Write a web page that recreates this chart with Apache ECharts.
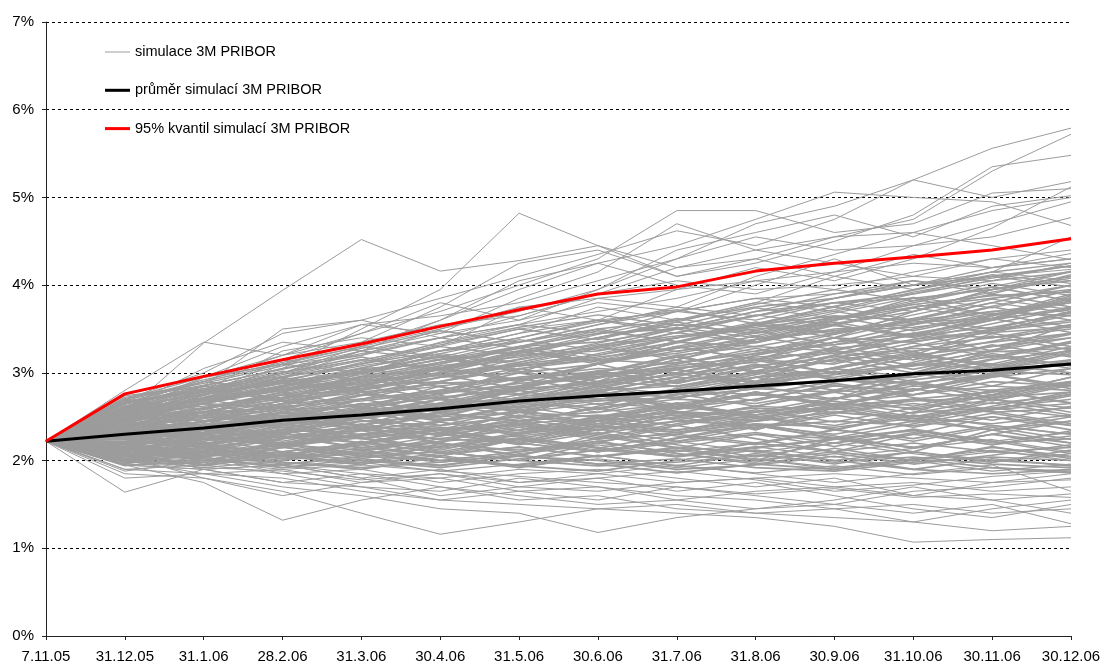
<!DOCTYPE html>
<html>
<head>
<meta charset="utf-8">
<script src="https://cdn.jsdelivr.net/npm/echarts@6/dist/echarts.min.js"></script>
<style>
  html, body { margin: 0; padding: 0; background: #fff; }
  #chart { width: 1105px; height: 666px; }
</style>
</head>
<body>
<div id="chart"></div>
<script>
// Dates of the simulation horizon (x axis)
const categories = ['7.11.05', '31.12.05', '31.1.06', '28.2.06', '31.3.06', '30.4.06', '31.5.06',
  '30.6.06', '31.7.06', '31.8.06', '30.9.06', '31.10.06', '30.11.06', '30.12.06'];

// Y axis tick values (%)
const yTicks = [0, 1, 2, 3, 4, 5, 6, 7];

// Average of the simulated 3M PRIBOR paths (%)
const meanPath = [2.22, 2.30, 2.37, 2.46, 2.52, 2.59, 2.68, 2.74, 2.79, 2.85, 2.91, 2.99, 3.03, 3.10];

// 95% quantile of the simulated paths (%)
const quantile95 = [2.22, 2.76, 2.96, 3.15, 3.33, 3.53, 3.72, 3.90, 3.98, 4.16, 4.25, 4.32, 4.40, 4.53];

// Simulated paths ending high (%)
const upperPaths = [
  [2.22, 2.55, 3.34, 3.94, 4.52, 4.16, 4.28, 4.45, 4.10, 4.30, 4.55, 4.60, 4.85, 5.00],
  [2.22, 2.50, 2.80, 3.05, 3.50, 3.95, 4.82, 4.45, 4.20, 4.40, 4.55, 4.75, 5.30, 5.72],
  [2.22, 2.60, 2.90, 3.20, 3.45, 3.70, 4.00, 4.30, 4.85, 4.85, 4.60, 4.70, 5.05, 5.10],
  [2.22, 2.55, 2.75, 3.00, 3.30, 3.60, 3.95, 4.25, 4.45, 4.75, 5.06, 5.00, 4.95, 4.68],
  [2.22, 2.70, 3.00, 3.45, 3.60, 3.85, 4.10, 4.35, 4.62, 4.45, 4.75, 5.20, 5.00, 5.18],
  [2.22, 2.50, 2.95, 3.30, 3.55, 3.65, 3.80, 4.05, 4.30, 4.70, 4.90, 5.20, 5.56, 5.79],
  [2.22, 2.45, 2.70, 3.10, 3.35, 3.75, 4.25, 4.40, 4.10, 4.25, 4.50, 4.80, 5.35, 5.48],
  [2.22, 2.65, 2.90, 3.10, 3.20, 3.50, 3.70, 3.95, 4.30, 4.55, 4.40, 4.45, 4.70, 4.95],
  [2.22, 2.40, 2.75, 2.95, 3.25, 3.45, 3.85, 4.15, 4.70, 4.40, 4.25, 4.10, 4.30, 4.40],
  [2.22, 2.60, 3.05, 3.35, 3.25, 3.60, 4.05, 4.25, 4.00, 3.90, 4.15, 4.45, 4.55, 4.77],
  [2.22, 2.55, 2.85, 3.50, 3.60, 3.40, 3.65, 3.90, 4.20, 4.30, 4.10, 4.35, 4.20, 4.36],
  [2.22, 2.75, 2.95, 3.15, 3.45, 3.80, 3.60, 3.95, 4.40, 4.60, 4.80, 4.55, 4.90, 5.02],
  [2.22, 2.35, 2.65, 2.90, 3.10, 3.35, 3.55, 3.85, 3.75, 4.10, 4.35, 4.60, 4.45, 4.29],
  [2.22, 2.50, 2.80, 3.25, 3.40, 3.30, 3.75, 3.60, 3.95, 4.20, 4.05, 4.30, 4.65, 5.12],
  [2.22, 2.80, 3.35, 3.20, 3.55, 3.45, 3.60, 3.80, 3.70, 4.00, 4.30, 4.00, 4.15, 4.55],
  [2.22, 2.70, 2.90, 3.10, 3.30, 3.50, 3.75, 3.85, 3.95, 4.05, 4.15, 4.25, 4.20, 4.30],
  [2.22, 2.60, 2.95, 3.20, 3.35, 3.55, 3.65, 3.90, 4.05, 3.95, 4.00, 4.10, 4.05, 4.25],
  [2.22, 2.50, 2.85, 3.05, 3.25, 3.40, 3.55, 3.70, 3.85, 4.05, 3.95, 4.15, 4.30, 4.20],
  [2.22, 2.65, 2.80, 3.00, 3.15, 3.30, 3.50, 3.60, 3.70, 3.85, 3.90, 4.00, 4.15, 4.05],
  [2.22, 2.55, 2.75, 3.15, 3.00, 3.25, 3.45, 3.75, 3.60, 3.80, 4.10, 3.95, 4.10, 4.18]
];

// Simulated paths in the central band (%)
const corePaths = [
  [2.22, 2.30, 2.40, 2.50, 2.55, 2.65, 2.70, 2.80, 2.85, 2.95, 3.00, 3.10, 3.05, 3.15],
  [2.22, 2.15, 2.20, 2.30, 2.25, 2.35, 2.40, 2.30, 2.45, 2.50, 2.40, 2.55, 2.60, 2.50],
  [2.22, 2.45, 2.60, 2.70, 2.85, 2.90, 3.05, 3.15, 3.10, 3.25, 3.40, 3.35, 3.50, 3.60],
  [2.22, 2.05, 2.10, 2.00, 2.15, 2.20, 2.10, 2.25, 2.30, 2.20, 2.35, 2.25, 2.40, 2.30],
  [2.22, 2.35, 2.30, 2.45, 2.60, 2.50, 2.70, 2.85, 2.75, 2.90, 3.05, 3.20, 3.10, 3.30],
  [2.22, 2.55, 2.75, 2.90, 3.00, 3.15, 3.25, 3.40, 3.55, 3.45, 3.60, 3.75, 3.85, 3.95],
  [2.22, 2.20, 2.35, 2.25, 2.40, 2.55, 2.45, 2.60, 2.70, 2.65, 2.80, 2.75, 2.90, 2.85],
  [2.22, 2.10, 2.00, 2.15, 2.05, 2.10, 2.25, 2.15, 2.05, 2.20, 2.10, 2.00, 2.15, 2.05],
  [2.22, 2.40, 2.50, 2.65, 2.70, 2.80, 2.95, 3.00, 3.20, 3.30, 3.25, 3.45, 3.60, 3.75],
  [2.22, 2.28, 2.45, 2.40, 2.50, 2.65, 2.60, 2.75, 2.90, 3.00, 2.95, 3.10, 3.25, 3.20],
  [2.22, 2.60, 2.70, 2.85, 3.05, 3.10, 3.30, 3.35, 3.50, 3.65, 3.80, 3.90, 4.05, 4.15],
  [2.22, 2.00, 2.05, 2.10, 2.20, 2.15, 2.30, 2.40, 2.35, 2.45, 2.55, 2.50, 2.60, 2.70],
  [2.22, 2.32, 2.25, 2.35, 2.30, 2.40, 2.50, 2.45, 2.55, 2.50, 2.60, 2.70, 2.65, 2.75],
  [2.22, 2.50, 2.55, 2.75, 2.80, 2.95, 3.00, 3.10, 3.25, 3.35, 3.50, 3.55, 3.70, 3.80],
  [2.22, 2.12, 2.25, 2.20, 2.30, 2.25, 2.35, 2.50, 2.40, 2.55, 2.65, 2.60, 2.75, 2.95],
  [2.22, 2.38, 2.55, 2.60, 2.75, 2.70, 2.85, 2.95, 3.05, 3.15, 3.10, 3.30, 3.40, 3.50],
  [2.22, 1.98, 2.00, 1.95, 2.05, 2.00, 1.95, 2.05, 2.15, 2.10, 2.00, 2.10, 2.00, 1.95],
  [2.22, 2.25, 2.30, 2.45, 2.40, 2.55, 2.65, 2.60, 2.75, 2.85, 2.90, 3.00, 2.95, 3.05],
  [2.22, 2.45, 2.65, 2.80, 2.95, 3.05, 3.15, 3.30, 3.40, 3.55, 3.65, 3.60, 3.80, 4.00],
  [2.22, 2.18, 2.10, 2.25, 2.35, 2.30, 2.20, 2.35, 2.45, 2.40, 2.30, 2.45, 2.35, 2.45],
  [2.22, 2.33, 2.40, 2.55, 2.50, 2.60, 2.75, 2.70, 2.80, 2.95, 3.05, 2.95, 3.15, 3.25],
  [2.22, 2.65, 2.80, 2.95, 3.10, 3.25, 3.35, 3.50, 3.60, 3.75, 3.85, 4.00, 4.10, 4.22],
  [2.22, 2.08, 2.15, 2.05, 2.10, 2.25, 2.20, 2.10, 2.20, 2.30, 2.25, 2.35, 2.20, 2.25],
  [2.22, 2.42, 2.35, 2.50, 2.65, 2.60, 2.80, 2.90, 2.85, 3.00, 3.15, 3.25, 3.35, 3.45],
  [2.22, 2.27, 2.35, 2.30, 2.45, 2.50, 2.55, 2.65, 2.60, 2.70, 2.85, 2.80, 3.00, 3.10],
  [2.22, 2.52, 2.65, 2.60, 2.75, 2.85, 2.95, 3.05, 3.00, 3.20, 3.35, 3.45, 3.40, 3.55],
  [2.22, 2.15, 2.05, 2.10, 2.00, 1.95, 2.05, 2.00, 1.90, 1.95, 2.05, 1.90, 1.85, 1.90],
  [2.22, 2.36, 2.50, 2.45, 2.55, 2.70, 2.65, 2.80, 2.95, 2.90, 3.05, 3.20, 3.30, 3.40],
  [2.22, 2.20, 2.25, 2.35, 2.45, 2.40, 2.50, 2.55, 2.65, 2.75, 2.70, 2.85, 2.80, 2.90],
  [2.22, 2.58, 2.70, 2.80, 2.90, 3.00, 3.10, 3.20, 3.35, 3.30, 3.45, 3.60, 3.70, 3.65],
  [2.22, 2.02, 1.95, 2.05, 1.98, 2.08, 2.15, 2.05, 2.12, 2.00, 2.10, 2.20, 2.10, 2.15],
  [2.22, 2.30, 2.45, 2.55, 2.70, 2.80, 2.75, 2.90, 3.05, 3.15, 3.25, 3.15, 3.30, 3.45],
  [2.22, 2.48, 2.60, 2.75, 2.90, 3.00, 3.20, 3.25, 3.40, 3.50, 3.55, 3.70, 3.95, 4.10],
  [2.22, 2.12, 2.18, 2.28, 2.20, 2.32, 2.42, 2.35, 2.50, 2.60, 2.55, 2.65, 2.55, 2.60],
  [2.22, 2.40, 2.35, 2.45, 2.55, 2.65, 2.60, 2.70, 2.80, 2.75, 2.90, 2.95, 3.10, 3.00],
  [2.22, 2.25, 2.15, 2.25, 2.35, 2.45, 2.55, 2.50, 2.60, 2.55, 2.65, 2.75, 2.85, 2.80],
  [2.22, 2.62, 2.75, 2.90, 3.00, 3.15, 3.30, 3.45, 3.50, 3.70, 3.80, 3.85, 3.95, 4.05],
  [2.22, 1.95, 1.98, 2.08, 2.00, 1.92, 2.02, 2.12, 2.05, 2.15, 2.25, 2.15, 2.30, 2.20],
  [2.22, 2.34, 2.42, 2.38, 2.48, 2.58, 2.72, 2.68, 2.78, 2.88, 2.98, 3.08, 3.18, 3.35],
  [2.22, 2.44, 2.56, 2.68, 2.78, 2.88, 2.92, 3.02, 3.12, 3.22, 3.32, 3.42, 3.52, 3.68],
  [2.22, 2.16, 2.26, 2.18, 2.28, 2.38, 2.32, 2.42, 2.52, 2.45, 2.55, 2.48, 2.58, 2.65],
  [2.22, 2.06, 2.12, 2.02, 2.08, 2.18, 2.12, 2.22, 2.32, 2.38, 2.45, 2.40, 2.50, 2.40],
  [2.22, 2.54, 2.62, 2.72, 2.88, 2.98, 3.08, 3.18, 3.28, 3.38, 3.48, 3.58, 3.62, 3.88],
  [2.22, 2.26, 2.32, 2.42, 2.52, 2.62, 2.58, 2.68, 2.72, 2.82, 2.92, 2.88, 2.98, 3.12],
  [2.22, 2.38, 2.48, 2.58, 2.62, 2.72, 2.82, 2.88, 2.98, 3.08, 3.18, 3.28, 3.24, 3.28],
  [2.22, 2.09, 2.02, 1.98, 1.92, 1.98, 2.06, 1.96, 2.02, 1.92, 1.88, 1.98, 2.04, 2.00],
  [2.22, 2.22, 2.28, 2.32, 2.38, 2.35, 2.45, 2.52, 2.48, 2.62, 2.58, 2.68, 2.72, 2.78],
  [2.22, 2.68, 2.78, 2.88, 2.82, 2.95, 3.08, 3.15, 3.22, 3.38, 3.48, 3.52, 3.62, 3.72],
  [2.22, 2.31, 2.38, 2.52, 2.48, 2.58, 2.68, 2.78, 2.72, 2.82, 2.78, 2.92, 3.02, 2.98],
  [2.22, 2.14, 2.08, 2.18, 2.12, 2.22, 2.28, 2.38, 2.32, 2.42, 2.38, 2.48, 2.42, 2.52],
  [2.22, 2.47, 2.52, 2.62, 2.68, 2.78, 2.85, 2.98, 3.08, 3.18, 3.22, 3.38, 3.48, 3.58],
  [2.22, 2.19, 2.24, 2.30, 2.26, 2.36, 2.42, 2.48, 2.56, 2.52, 2.62, 2.70, 2.78, 2.88],
  [2.22, 2.04, 2.08, 1.96, 2.04, 2.10, 2.00, 1.94, 1.98, 2.06, 1.98, 2.04, 1.96, 1.92],
  [2.22, 2.36, 2.44, 2.54, 2.64, 2.76, 2.88, 2.96, 3.06, 3.12, 3.28, 3.36, 3.46, 3.52],
  [2.22, 2.58, 2.68, 2.82, 2.92, 3.08, 3.18, 3.32, 3.42, 3.52, 3.62, 3.78, 3.88, 3.92]
];

// More zig-zagging simulated paths in the central band (%)
const corePaths2 = [
  [2.22, 2.45, 2.30, 2.55, 2.40, 2.65, 2.50, 2.80, 2.60, 2.85, 2.70, 3.00, 2.85, 3.05],
  [2.22, 2.10, 2.30, 2.15, 2.40, 2.20, 2.45, 2.30, 2.55, 2.35, 2.60, 2.45, 2.70, 2.55],
  [2.22, 2.55, 2.40, 2.70, 2.95, 2.75, 3.05, 2.90, 3.20, 3.00, 3.30, 3.15, 3.45, 3.30],
  [2.22, 2.30, 2.55, 2.35, 2.60, 2.85, 2.65, 2.95, 3.15, 2.90, 3.20, 3.45, 3.25, 3.55],
  [2.22, 2.00, 2.20, 2.05, 1.95, 2.20, 2.05, 2.30, 2.15, 2.00, 2.25, 2.10, 2.35, 2.20],
  [2.22, 2.40, 2.60, 2.45, 2.70, 2.55, 2.85, 3.10, 2.90, 3.20, 3.40, 3.20, 3.50, 3.70],
  [2.22, 2.15, 2.35, 2.55, 2.40, 2.30, 2.55, 2.75, 2.55, 2.45, 2.70, 2.90, 2.70, 2.60],
  [2.22, 2.65, 2.85, 2.70, 3.00, 3.20, 3.00, 3.30, 3.50, 3.35, 3.60, 3.85, 3.65, 3.90],
  [2.22, 2.25, 2.10, 2.30, 2.50, 2.35, 2.20, 2.45, 2.65, 2.50, 2.35, 2.55, 2.80, 2.65],
  [2.22, 2.50, 2.70, 2.95, 2.80, 3.05, 3.25, 3.10, 3.35, 3.55, 3.40, 3.70, 3.90, 3.75],
  [2.22, 2.05, 1.95, 2.15, 2.30, 2.10, 2.00, 2.20, 2.40, 2.25, 2.10, 2.30, 2.50, 2.35],
  [2.22, 2.35, 2.55, 2.75, 2.60, 2.80, 3.00, 2.85, 2.70, 2.95, 3.15, 3.00, 3.25, 3.40],
  [2.22, 2.20, 2.40, 2.30, 2.50, 2.70, 2.55, 2.75, 2.60, 2.85, 3.05, 2.90, 2.75, 2.95],
  [2.22, 2.60, 2.45, 2.65, 2.85, 3.05, 2.90, 3.10, 3.30, 3.15, 3.35, 3.55, 3.75, 3.60],
  [2.22, 2.12, 2.25, 2.10, 2.20, 2.35, 2.20, 2.10, 2.25, 2.40, 2.25, 2.15, 2.30, 2.45],
  [2.22, 2.42, 2.28, 2.48, 2.65, 2.50, 2.70, 2.55, 2.75, 2.95, 2.80, 3.00, 3.20, 3.05],
  [2.22, 2.30, 2.45, 2.65, 2.85, 2.70, 2.90, 3.10, 3.30, 3.15, 3.40, 3.60, 3.45, 3.70],
  [2.22, 1.98, 2.12, 2.28, 2.15, 2.05, 2.25, 2.40, 2.28, 2.18, 2.35, 2.52, 2.40, 2.30],
  [2.22, 2.48, 2.65, 2.50, 2.70, 2.90, 3.10, 2.95, 3.15, 3.35, 3.55, 3.40, 3.60, 3.85],
  [2.22, 2.18, 2.32, 2.48, 2.35, 2.55, 2.42, 2.62, 2.82, 2.68, 2.88, 2.75, 2.95, 3.15],
  [2.22, 2.38, 2.22, 2.40, 2.58, 2.45, 2.62, 2.48, 2.65, 2.52, 2.70, 2.88, 2.72, 2.90],
  [2.22, 2.56, 2.72, 2.90, 2.75, 2.95, 3.12, 3.30, 3.15, 3.38, 3.58, 3.42, 3.65, 3.82],
  [2.22, 2.08, 2.22, 2.38, 2.25, 2.12, 2.30, 2.45, 2.32, 2.48, 2.62, 2.48, 2.35, 2.50],
  [2.22, 2.28, 2.18, 2.36, 2.52, 2.70, 2.55, 2.40, 2.58, 2.76, 2.62, 2.80, 2.98, 2.85],
  [2.22, 2.52, 2.38, 2.58, 2.78, 2.62, 2.82, 3.02, 2.88, 3.08, 2.92, 3.12, 3.32, 3.18],
  [2.22, 2.14, 2.00, 2.16, 2.30, 2.44, 2.28, 2.14, 2.30, 2.46, 2.60, 2.44, 2.62, 2.78],
  [2.22, 2.34, 2.52, 2.40, 2.58, 2.76, 2.94, 2.78, 2.96, 3.14, 3.00, 3.18, 3.02, 3.22],
  [2.22, 2.62, 2.80, 3.00, 3.18, 3.02, 3.22, 3.40, 3.58, 3.42, 3.62, 3.80, 3.98, 3.82],
  [2.22, 2.02, 2.16, 2.02, 2.18, 2.32, 2.18, 2.32, 2.18, 2.04, 2.20, 2.36, 2.22, 2.08],
  [2.22, 2.44, 2.60, 2.78, 2.62, 2.46, 2.64, 2.82, 3.00, 2.84, 3.02, 2.86, 3.04, 3.24],
  [2.22, 2.26, 2.40, 2.26, 2.42, 2.28, 2.44, 2.60, 2.46, 2.62, 2.78, 2.62, 2.80, 2.66],
  [2.22, 2.70, 2.58, 2.78, 2.96, 3.12, 3.28, 3.12, 3.30, 3.48, 3.32, 3.50, 3.68, 3.52],
  [2.22, 2.10, 2.24, 2.40, 2.56, 2.40, 2.58, 2.42, 2.60, 2.78, 2.62, 2.80, 2.98, 2.82],
  [2.22, 2.36, 2.20, 2.04, 2.20, 2.36, 2.22, 2.38, 2.54, 2.40, 2.26, 2.42, 2.58, 2.74],
  [2.22, 2.50, 2.66, 2.84, 3.02, 3.18, 3.02, 2.86, 3.04, 3.22, 3.40, 3.24, 3.06, 3.26],
  [2.22, 2.20, 2.06, 2.20, 2.06, 2.22, 2.38, 2.24, 2.40, 2.56, 2.72, 2.58, 2.74, 2.90],
  [2.22, 2.46, 2.32, 2.50, 2.36, 2.54, 2.72, 2.58, 2.76, 2.62, 2.80, 2.98, 3.16, 3.34],
  [2.22, 2.32, 2.48, 2.64, 2.82, 2.98, 2.82, 3.00, 2.84, 3.02, 3.20, 3.04, 3.22, 3.08],
  [2.22, 2.04, 2.18, 2.34, 2.50, 2.34, 2.20, 2.36, 2.22, 2.38, 2.54, 2.70, 2.56, 2.42],
  [2.22, 2.58, 2.44, 2.62, 2.48, 2.66, 2.84, 3.02, 2.88, 3.06, 3.24, 3.08, 3.26, 3.44],
  [2.22, 2.24, 2.38, 2.54, 2.40, 2.56, 2.72, 2.88, 3.04, 2.88, 3.06, 3.24, 3.42, 3.26],
  [2.22, 2.40, 2.56, 2.42, 2.28, 2.44, 2.30, 2.46, 2.62, 2.78, 2.64, 2.50, 2.66, 2.52],
  [2.22, 2.16, 2.30, 2.16, 2.02, 2.16, 2.32, 2.48, 2.34, 2.50, 2.36, 2.22, 2.38, 2.24],
  [2.22, 2.66, 2.82, 2.68, 2.86, 3.04, 3.22, 3.40, 3.24, 3.42, 3.26, 3.44, 3.62, 3.46],
  [2.22, 2.30, 2.16, 2.32, 2.48, 2.64, 2.80, 2.64, 2.82, 2.98, 3.16, 3.34, 3.18, 3.36],
  [2.22, 2.12, 2.28, 2.44, 2.60, 2.46, 2.62, 2.78, 2.64, 2.48, 2.64, 2.80, 2.96, 3.12],
  [2.22, 2.54, 2.70, 2.56, 2.74, 2.90, 2.76, 2.94, 3.10, 3.28, 3.12, 3.30, 3.48, 3.66],
  [2.22, 2.06, 2.20, 2.06, 2.22, 2.08, 2.24, 2.10, 2.26, 2.42, 2.28, 2.14, 2.30, 2.16],
  [2.22, 2.40, 2.26, 2.42, 2.58, 2.74, 2.60, 2.76, 2.62, 2.78, 2.64, 2.82, 2.68, 2.86],
  [2.22, 2.28, 2.44, 2.60, 2.46, 2.32, 2.48, 2.34, 2.50, 2.36, 2.52, 2.38, 2.54, 2.40],
  [2.22, 2.48, 2.34, 2.20, 2.36, 2.52, 2.68, 2.84, 3.00, 3.16, 3.00, 3.18, 3.36, 3.54],
  [2.22, 2.18, 2.04, 2.18, 2.34, 2.20, 2.06, 2.22, 2.08, 1.98, 2.14, 2.00, 2.16, 2.02],
  [2.22, 2.36, 2.52, 2.68, 2.54, 2.70, 2.56, 2.74, 2.92, 3.10, 2.94, 2.80, 2.98, 3.14],
  [2.22, 2.60, 2.76, 2.92, 2.78, 2.64, 2.82, 3.00, 3.18, 3.02, 3.20, 3.38, 3.56, 3.74],
  [2.22, 2.22, 2.36, 2.22, 2.38, 2.24, 2.40, 2.26, 2.42, 2.58, 2.44, 2.60, 2.46, 2.62],
  [2.22, 2.44, 2.30, 2.46, 2.62, 2.48, 2.34, 2.50, 2.66, 2.52, 2.68, 2.54, 2.70, 2.88],
  [2.22, 2.00, 2.14, 2.28, 2.14, 2.28, 2.42, 2.28, 2.14, 2.30, 2.16, 2.32, 2.18, 2.34],
  [2.22, 2.52, 2.68, 2.84, 3.00, 2.84, 2.68, 2.86, 3.04, 2.88, 3.06, 3.22, 3.08, 3.26],
  [2.22, 2.32, 2.18, 2.34, 2.20, 2.36, 2.52, 2.38, 2.54, 2.70, 2.86, 2.72, 2.58, 2.76],
  [2.22, 2.68, 2.54, 2.72, 2.90, 3.06, 2.92, 3.10, 3.28, 3.46, 3.64, 3.48, 3.66, 3.84],
  [2.22, 1.96, 2.10, 1.98, 1.90, 2.04, 1.92, 2.06, 1.94, 2.08, 1.96, 2.10, 1.98, 2.12],
  [2.22, 2.08, 1.94, 2.06, 2.18, 2.04, 1.94, 1.88, 2.00, 2.12, 2.00, 1.90, 2.02, 1.94],
  [2.22, 2.02, 2.14, 2.02, 2.12, 2.00, 2.10, 2.22, 2.08, 1.96, 1.90, 2.02, 1.92, 1.86],
  [2.22, 2.14, 2.02, 1.92, 2.02, 1.94, 2.06, 1.96, 1.86, 1.96, 2.08, 1.96, 2.06, 2.18]
];

// Simulated paths in the upper part of the central band (%)
const upperCorePaths = [
  [2.22, 2.62, 2.85, 3.05, 3.20, 3.40, 3.55, 3.45, 3.70, 3.85, 3.75, 3.95, 4.15, 4.25],
  [2.22, 2.70, 2.95, 3.10, 3.00, 3.25, 3.45, 3.60, 3.50, 3.70, 3.90, 4.05, 3.95, 4.15],
  [2.22, 2.55, 2.80, 3.00, 3.25, 3.15, 3.35, 3.55, 3.70, 3.60, 3.80, 3.70, 3.95, 4.10],
  [2.22, 2.48, 2.72, 2.95, 3.10, 3.30, 3.20, 3.40, 3.60, 3.80, 3.70, 3.90, 4.10, 3.98],
  [2.22, 2.66, 2.90, 2.80, 3.05, 3.25, 3.40, 3.60, 3.45, 3.65, 3.85, 4.00, 4.20, 4.30],
  [2.22, 2.58, 2.78, 2.98, 3.15, 3.05, 3.30, 3.50, 3.35, 3.55, 3.75, 3.60, 3.85, 4.00],
  [2.22, 2.72, 2.88, 3.08, 3.28, 3.48, 3.35, 3.55, 3.75, 3.65, 3.85, 4.05, 3.90, 4.12],
  [2.22, 2.52, 2.76, 2.90, 3.12, 3.32, 3.50, 3.38, 3.58, 3.78, 3.95, 3.82, 4.02, 3.88],
  [2.22, 2.60, 2.70, 2.92, 3.08, 3.22, 3.40, 3.58, 3.72, 3.56, 3.72, 3.92, 4.08, 4.22],
  [2.22, 2.44, 2.68, 2.86, 3.04, 2.96, 3.16, 3.34, 3.52, 3.40, 3.60, 3.78, 3.66, 3.86],
  [2.22, 2.64, 2.82, 3.02, 2.92, 3.12, 3.30, 3.20, 3.40, 3.58, 3.46, 3.66, 3.84, 3.72],
  [2.22, 2.50, 2.74, 2.62, 2.84, 3.04, 3.24, 3.14, 3.34, 3.54, 3.70, 3.56, 3.76, 3.94],
  [2.22, 2.56, 2.64, 2.84, 3.02, 3.20, 3.10, 3.28, 3.46, 3.34, 3.54, 3.42, 3.62, 3.80],
  [2.22, 2.68, 2.92, 3.12, 3.30, 3.18, 3.38, 3.26, 3.46, 3.66, 3.54, 3.74, 3.92, 4.08],
  [2.22, 2.46, 2.66, 2.82, 2.98, 3.16, 3.04, 3.22, 3.40, 3.56, 3.44, 3.62, 3.50, 3.70],
  [2.22, 2.74, 2.84, 2.96, 3.14, 3.34, 3.52, 3.66, 3.54, 3.74, 3.62, 3.82, 3.98, 4.16],
  [2.22, 2.40, 2.58, 2.76, 2.94, 3.10, 3.28, 3.16, 3.36, 3.24, 3.44, 3.62, 3.80, 3.68],
  [2.22, 2.54, 2.70, 2.88, 3.06, 3.22, 3.12, 3.30, 3.18, 3.38, 3.56, 3.74, 3.62, 3.82],
  [2.22, 2.60, 2.78, 2.94, 2.86, 3.06, 3.24, 3.44, 3.62, 3.48, 3.68, 3.86, 3.74, 3.94],
  [2.22, 2.70, 2.86, 3.04, 3.22, 3.40, 3.28, 3.48, 3.36, 3.56, 3.76, 3.94, 4.12, 4.02]
];

// Simulated paths in the lower part of the central band (%)
const lowerCorePaths = [
  [2.22, 1.94, 2.04, 1.92, 1.98, 1.88, 1.96, 2.06, 1.94, 1.86, 1.94, 1.84, 1.92, 1.88],
  [2.22, 2.06, 1.96, 2.08, 1.96, 2.06, 1.94, 2.02, 1.92, 2.02, 1.90, 2.00, 1.88, 1.96],
  [2.22, 2.00, 2.10, 2.20, 2.08, 1.98, 2.08, 2.18, 2.06, 2.16, 2.04, 2.14, 2.24, 2.10],
  [2.22, 2.12, 2.00, 2.10, 2.20, 2.10, 2.00, 2.12, 2.22, 2.10, 2.20, 2.08, 1.98, 2.08],
  [2.22, 1.98, 2.08, 2.18, 2.06, 2.16, 2.26, 2.14, 2.04, 2.14, 2.24, 2.34, 2.22, 2.32],
  [2.22, 2.08, 2.18, 2.06, 1.96, 2.06, 2.16, 2.04, 2.14, 2.02, 1.92, 2.02, 2.12, 2.00],
  [2.22, 2.16, 2.06, 2.16, 2.26, 2.14, 2.24, 2.12, 2.22, 2.32, 2.20, 2.30, 2.18, 2.28],
  [2.22, 2.02, 1.92, 2.00, 2.10, 2.00, 2.10, 2.20, 2.10, 2.20, 2.10, 2.00, 2.10, 2.04]
];

// Simulated paths ending low (%)
const lowerPaths = [
  [2.22, 1.64, 1.90, 1.75, 1.70, 1.55, 1.65, 1.70, 1.60, 1.55, 1.45, 1.50, 1.40, 1.45],
  [2.22, 1.95, 1.75, 1.32, 1.55, 1.70, 1.60, 1.50, 1.55, 1.65, 1.70, 1.60, 1.55, 1.62],
  [2.22, 1.85, 1.80, 1.65, 1.40, 1.16, 1.30, 1.45, 1.50, 1.40, 1.35, 1.30, 1.45, 1.55],
  [2.22, 1.90, 1.85, 1.70, 1.60, 1.45, 1.40, 1.18, 1.35, 1.45, 1.50, 1.65, 1.70, 1.80],
  [2.22, 2.00, 1.85, 1.80, 1.65, 1.55, 1.50, 1.45, 1.40, 1.35, 1.25, 1.07, 1.10, 1.12],
  [2.22, 1.95, 1.90, 1.75, 1.85, 1.70, 1.55, 1.60, 1.45, 1.40, 1.45, 1.30, 1.20, 1.25],
  [2.22, 2.05, 1.80, 1.60, 1.75, 1.80, 1.65, 1.55, 1.70, 1.60, 1.50, 1.40, 1.50, 1.28],
  [2.22, 1.90, 1.95, 1.85, 1.70, 1.65, 1.80, 1.70, 1.55, 1.45, 1.55, 1.70, 1.55, 1.40],
  [2.22, 2.10, 1.90, 1.95, 1.80, 1.60, 1.70, 1.80, 1.65, 1.75, 1.60, 1.45, 1.35, 1.50],
  [2.22, 1.80, 1.85, 1.90, 1.75, 1.85, 1.70, 1.65, 1.75, 1.80, 1.70, 1.75, 1.65, 1.70],
  [2.22, 2.00, 2.05, 1.85, 1.90, 1.75, 1.85, 1.90, 1.80, 1.70, 1.80, 1.60, 1.75, 1.85],
  [2.22, 1.88, 2.00, 1.95, 1.80, 1.90, 1.75, 1.85, 1.95, 1.85, 1.75, 1.85, 1.95, 1.65],
  [2.22, 1.95, 1.90, 1.95, 1.85, 1.80, 1.90, 1.85, 1.75, 1.80, 1.85, 1.80, 1.75, 1.78],
  [2.22, 2.00, 1.92, 1.88, 1.78, 1.85, 1.75, 1.80, 1.88, 1.78, 1.65, 1.72, 1.82, 1.88],
  [2.22, 2.05, 1.98, 1.90, 1.95, 1.88, 1.82, 1.75, 1.70, 1.62, 1.68, 1.58, 1.62, 1.58]
];

const SIM_NAME = 'simulace 3M PRIBOR';
const MEAN_NAME = 'průměr simulací 3M PRIBOR';
const Q95_NAME = '95% kvantil simulací 3M PRIBOR';
const SIM_COLOR = '#9c9c9c';
const FONT = 'Liberation Sans, Arial, sans-serif';

function simLine(path, width) {
  return {
    name: SIM_NAME,
    type: 'line',
    data: path,
    symbol: 'none',
    silent: true,
    lineStyle: { color: SIM_COLOR, width: width },
    itemStyle: { color: SIM_COLOR },
    z: 2
  };
}

const simSeries = [
  ...upperPaths.map(p => simLine(p, 1)),
  ...lowerPaths.map(p => simLine(p, 1)),
  ...corePaths.map(p => simLine(p, 1.6)),
  ...corePaths2.map(p => simLine(p, 1.6)),
  ...upperCorePaths.map(p => simLine(p, 1.3)),
  ...lowerCorePaths.map(p => simLine(p, 1.3))
];

const chart = echarts.init(document.getElementById('chart'), null, { renderer: 'canvas' });
chart.setOption({
  animation: false,
  backgroundColor: '#ffffff',
  textStyle: { fontFamily: FONT, color: '#000' },
  grid: { left: 46, right: 34, top: 22, bottom: 30, containLabel: false },
  legend: {
    orient: 'vertical',
    left: 105,
    top: 44.5,
    padding: 0,
    itemWidth: 25,
    itemHeight: 14,
    itemGap: 23.3,
    symbolKeepAspect: true,
    data: [
      { name: SIM_NAME, icon: 'path://M0,0H25V1H0Z' },
      { name: MEAN_NAME, icon: 'path://M0,0H25V3H0Z' },
      { name: Q95_NAME, icon: 'path://M0,0H25V3H0Z' }
    ],
    textStyle: { fontSize: 14.5, color: '#000', fontFamily: FONT },
    selectedMode: false
  },
  xAxis: {
    type: 'category',
    data: categories,
    boundaryGap: false,
    axisLine: { lineStyle: { color: '#222', width: 1 } },
    axisTick: { show: true, length: 4, lineStyle: { color: '#222' } },
    axisLabel: { fontSize: 15, color: '#000', margin: 13, interval: 0, fontFamily: FONT },
    splitLine: { show: false }
  },
  yAxis: {
    type: 'value',
    min: yTicks[0],
    max: yTicks[yTicks.length - 1],
    interval: 1,
    axisLine: { show: true, lineStyle: { color: '#222', width: 1 } },
    axisTick: { show: true, length: 4, lineStyle: { color: '#222' } },
    axisLabel: { fontSize: 15, color: '#000', margin: 12, formatter: v => v + '%', fontFamily: FONT },
    splitLine: { show: true, lineStyle: { color: '#000', width: 1, type: [3, 3] } }
  },
  series: [
    ...simSeries,
    {
      name: MEAN_NAME,
      type: 'line',
      data: meanPath,
      symbol: 'none',
      lineStyle: { color: '#000000', width: 3 },
      itemStyle: { color: '#000000' },
      z: 5
    },
    {
      name: Q95_NAME,
      type: 'line',
      data: quantile95,
      symbol: 'none',
      lineStyle: { color: '#ff0000', width: 3 },
      itemStyle: { color: '#ff0000' },
      z: 5
    }
  ]
});
</script>
</body>
</html>
